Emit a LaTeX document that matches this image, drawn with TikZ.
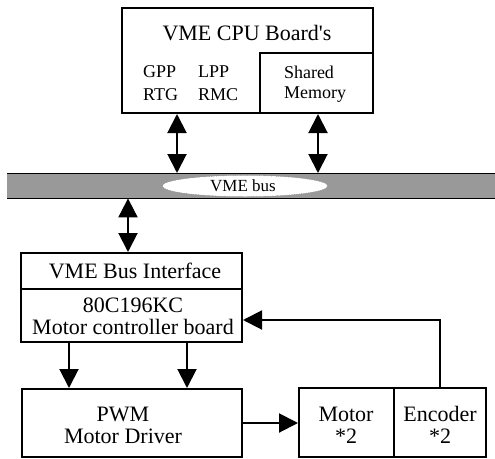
\documentclass[tikz,border=0pt]{standalone}
\usepackage{fontspec}
\setmainfont{Liberation Serif}
\usetikzlibrary{arrows.meta,shapes.geometric}
\tikzset{
  box/.style={draw, line width=2pt, rectangle, inner sep=0pt, anchor=north west},
  big/.style={font=\fontsize{22}{22}\selectfont, align=center, inner sep=0pt},
  small/.style={font=\fontsize{18}{20}\selectfont, inner sep=0pt},
  dbl/.style={line width=2pt, {Triangle[width=19pt,length=19pt]}-{Triangle[width=19pt,length=19pt]}},
  arr/.style={line width=2pt, -{Triangle[width=19pt,length=19pt]}}
}
\begin{document}
\begin{tikzpicture}[x=1pt,y=-1pt]
\useasboundingbox (0,0) rectangle (495,458);
% CPU board
\node[box, minimum width=251.5pt, minimum height=105pt] (cpu) at (120.5,7) {};
\node[box, minimum width=113pt, minimum height=60pt] (shm) at (259,52) {};
\node[big] (cputxt) at (247,33) {VME CPU Board\textquotesingle s};
\node[small, anchor=base west] (gpp) at (143,77) {GPP};
\node[small, anchor=base west] (lpp) at (198,77) {LPP};
\node[small, anchor=base west] (rtg) at (143,100) {RTG};
\node[small, anchor=base west] (rmc) at (198,100) {RMC};
\node[small, align=left] (shmtxt) at (315,84) {Shared\\Memory};
% bus
\node[rectangle, fill=black!40, inner sep=0pt, anchor=north west, minimum width=488pt, minimum height=25pt] (bus) at (7,173) {};
\draw[line width=1pt] (bus.north west) -- (bus.north east);
\draw[line width=1pt] (bus.south west) -- (bus.south east);
\node[ellipse, fill=white, draw=black!60, dotted, minimum width=165pt, minimum height=21pt, inner sep=0pt] (busell) at (245,186) {};
\node[font=\fontsize{17}{17}\selectfont, inner sep=0pt] (bustxt) at (243,186) {VME bus};
% interface boards
\node[box, minimum width=221pt, minimum height=36pt] (vbi) at (20,252) {};
\node[box, minimum width=221pt, minimum height=53pt] (mcb) at (20,288) {};
\node[big] (vbitxt) at (135,271) {VME Bus Interface};
\node[big] (mcbtxt) at (133,316) {80C196KC\\Motor controller board};
% driver and motor
\node[box, minimum width=220pt, minimum height=68pt] (pwm) at (21,388) {};
\node[big] (pwmtxt) at (123,425) {PWM\\Motor Driver};
\node[box, minimum width=95pt, minimum height=69pt] (mot) at (298,387) {};
\node[box, minimum width=92pt, minimum height=69pt] (enc) at (393,387) {};
\node[big] (mottxt) at (346,425) {Motor\\*2};
\node[big] (enctxt) at (440,425) {Encoder\\*2};
% helper coordinates
\coordinate (xa) at (177,0);
\coordinate (xb) at (318,0);
\coordinate (xc) at (128,0);
\coordinate (xd) at (69,0);
\coordinate (xe) at (187,0);
\coordinate (yf) at (0,320);
\coordinate (yg) at (0,423);
% connectors
\draw[dbl] (cpu.south -| xa) -- (bus.north -| xa);
\draw[dbl] (cpu.south -| xb) -- (bus.north -| xb);
\draw[dbl] (bus.south -| xc) -- (vbi.north -| xc);
\draw[arr] (mcb.south -| xd) -- (pwm.north -| xd);
\draw[arr] (mcb.south -| xe) -- (pwm.north -| xe);
\draw[arr] (pwm.east |- yg) -- (mot.west |- yg);
\draw[arr] (enc.north) |- (mcb.east |- yf);
\end{tikzpicture}
\end{document}
